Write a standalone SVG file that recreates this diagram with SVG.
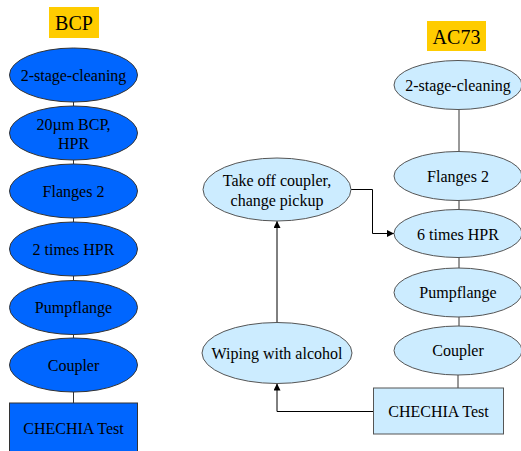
<svg xmlns="http://www.w3.org/2000/svg" width="521" height="451" viewBox="0 0 521 451">
<defs>
<style>
text{font-family:'Liberation Serif','DejaVu Serif',serif;font-size:16px;fill:#000;text-anchor:middle;dominant-baseline:central}
.title{font-size:20px}
.lab{fill:#FFCC00}
.dark{fill:#0066FF;stroke:#333;stroke-width:1}
.light{fill:#CCECFF;stroke:#555;stroke-width:1}
.link{fill:none;stroke:#000;stroke-width:1}
.tie{fill:none;stroke:#333;stroke-width:1}
</style>
<marker id="arr" viewBox="0 0 10 10" refX="10" refY="5" markerWidth="7" markerHeight="7" markerUnits="userSpaceOnUse" orient="auto"><path d="M0,0 L10,5 L0,10 z" fill="#000"/></marker>
</defs>
<g id="connectors">
<line class="tie" x1="73.5" y1="102" x2="73.5" y2="106"/>
<line class="tie" x1="73.5" y1="160" x2="73.5" y2="164"/>
<line class="tie" x1="73.5" y1="218" x2="73.5" y2="222"/>
<line class="tie" x1="73.5" y1="276" x2="73.5" y2="281"/>
<line class="tie" x1="73.5" y1="334" x2="73.5" y2="338"/>
<line class="tie" x1="73.5" y1="392" x2="73.5" y2="403"/>
<line class="tie" x1="459" y1="109.5" x2="459" y2="151.5"/>
<line class="tie" x1="459" y1="200" x2="459" y2="209"/>
<line class="tie" x1="459" y1="257" x2="459" y2="268"/>
<line class="tie" x1="459" y1="316.5" x2="459" y2="326"/>
<line class="tie" x1="458" y1="375" x2="458" y2="388"/>
<polyline class="link" points="373,411.5 277,411.5 277,383.5" marker-end="url(#arr)"/>
<line class="link" x1="277" y1="322.5" x2="277" y2="221" marker-end="url(#arr)"/>
<polyline class="link" points="351,189.5 372.5,189.5 372.5,233.5 394,233.5" marker-end="url(#arr)"/>
</g>
<g id="bcp-title"><rect class="lab" x="49" y="7" width="50" height="31"/><text class="title" x="74" y="23">BCP</text></g>
<g id="bcp-1"><ellipse class="dark" cx="73.5" cy="75" rx="64" ry="27"/><text x="73.5" y="75">2-stage-cleaning</text></g>
<g id="bcp-2"><ellipse class="dark" cx="73.5" cy="133" rx="64" ry="27"/><text x="73.5" y="124">20µm BCP,</text><text x="73.5" y="143.5">HPR</text></g>
<g id="bcp-3"><ellipse class="dark" cx="73.5" cy="191" rx="64" ry="27"/><text x="73.5" y="191">Flanges 2</text></g>
<g id="bcp-4"><ellipse class="dark" cx="73.5" cy="249" rx="64" ry="27"/><text x="73.5" y="249">2 times HPR</text></g>
<g id="bcp-5"><ellipse class="dark" cx="73.5" cy="307.5" rx="64" ry="27"/><text x="73.5" y="307.5">Pumpflange</text></g>
<g id="bcp-6"><ellipse class="dark" cx="73.5" cy="365" rx="64" ry="27"/><text x="73.5" y="365">Coupler</text></g>
<g id="bcp-7"><rect class="dark" x="9.5" y="403" width="128" height="50"/><text x="73.5" y="428">CHECHIA Test</text></g>
<g id="ac73-title"><rect class="lab" x="427" y="21" width="59" height="30"/><text class="title" x="456.5" y="36.5">AC73</text></g>
<g id="ac73-1"><ellipse class="light" cx="458" cy="85" rx="64" ry="24.5"/><text x="458" y="85.5">2-stage-cleaning</text></g>
<g id="ac73-2"><ellipse class="light" cx="458" cy="176" rx="64" ry="24.5"/><text x="458" y="176">Flanges 2</text></g>
<g id="ac73-3"><ellipse class="light" cx="458" cy="233.5" rx="64" ry="24"/><text x="458" y="234">6 times HPR</text></g>
<g id="ac73-4"><ellipse class="light" cx="458" cy="292.5" rx="64" ry="24.5"/><text x="458" y="292.5">Pumpflange</text></g>
<g id="ac73-5"><ellipse class="light" cx="458" cy="350.5" rx="64" ry="24.5"/><text x="458" y="350">Coupler</text></g>
<g id="ac73-6"><rect class="light" x="373.5" y="388" width="130" height="46"/><text x="438.5" y="411.5">CHECHIA Test</text></g>
<g id="takeoff"><ellipse class="light" cx="277" cy="189.5" rx="74" ry="31.5"/><text x="277" y="180">Take off coupler,</text><text x="277" y="200">change pickup</text></g>
<g id="wiping"><ellipse class="light" cx="277" cy="353" rx="75" ry="30.5"/><text x="277" y="353">Wiping with alcohol</text></g>
</svg>
